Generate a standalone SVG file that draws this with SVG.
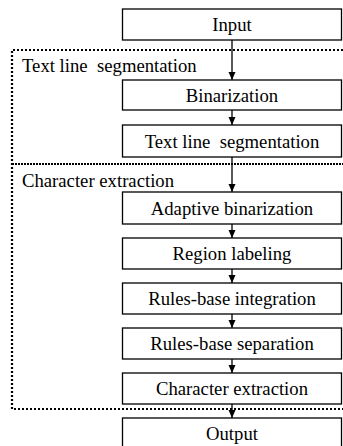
<svg xmlns="http://www.w3.org/2000/svg" width="343" height="446" viewBox="0 0 343 446">
  <style>
    .box { fill: #fff; stroke: #000; stroke-width: 1.3; }
    text { font-family: "Liberation Serif", "Times New Roman", "DejaVu Serif", serif; font-size: 18.7px; fill: #000; white-space: pre; }
    .ctr { text-anchor: middle; }
    .dot { fill: none; stroke: #000; stroke-width: 2.2; stroke-dasharray: 2 2; }
    .dot2 { fill: none; stroke: #000; stroke-width: 2.2; stroke-dasharray: 2 1; }
    .conn { stroke: #000; stroke-width: 1.3; fill: none; marker-end: url(#arr); }
  </style>
  <defs>
    <marker id="arr" viewBox="0 0 8 8" refX="8" refY="4" markerWidth="8" markerHeight="8" markerUnits="userSpaceOnUse" orient="auto">
      <path d="M0,0.5 L8,4 L0,7.5 Z" fill="#000"/>
    </marker>
  </defs>

  <!-- stage frames -->
  <g id="frames">
    <path class="dot" d="M343,50 H12 V409 H343"/>
    <path class="dot2" d="M12,164 H343"/>
    <text x="22" y="71.5" xml:space="preserve">Text line  segmentation</text>
    <text x="22" y="186.5">Character extraction</text>
  </g>

  <!-- connectors -->
  <g id="connectors">
    <line class="conn" x1="232" y1="40" x2="232" y2="80"/>
    <line class="conn" x1="232" y1="110" x2="232" y2="125"/>
    <line class="conn" x1="232" y1="157" x2="232" y2="192"/>
    <line class="conn" x1="232" y1="224" x2="232" y2="238"/>
    <line class="conn" x1="232" y1="269" x2="232" y2="283"/>
    <line class="conn" x1="232" y1="314" x2="232" y2="328"/>
    <line class="conn" x1="232" y1="359" x2="232" y2="373"/>
    <line class="conn" x1="232" y1="404" x2="232" y2="418"/>
  </g>

  <g id="input">
    <rect class="box" x="122.5" y="9" width="219" height="31"/>
    <text class="ctr" x="232" y="31">Input</text>
  </g>
  <g id="binarization">
    <rect class="box" x="122.5" y="80" width="219" height="30"/>
    <text class="ctr" x="232" y="101.5">Binarization</text>
  </g>
  <g id="textline">
    <rect class="box" x="122.5" y="125" width="219" height="32"/>
    <text class="ctr" x="232" y="147.5" xml:space="preserve">Text line  segmentation</text>
  </g>
  <g id="adaptive">
    <rect class="box" x="122.5" y="192" width="219" height="32"/>
    <text class="ctr" x="232" y="214.5">Adaptive binarization</text>
  </g>
  <g id="region">
    <rect class="box" x="122.5" y="238" width="219" height="31"/>
    <text class="ctr" x="232" y="260">Region labeling</text>
  </g>
  <g id="integration">
    <rect class="box" x="122.5" y="283" width="219" height="31"/>
    <text class="ctr" x="232" y="305">Rules-base integration</text>
  </g>
  <g id="separation">
    <rect class="box" x="122.5" y="328" width="219" height="31"/>
    <text class="ctr" x="232" y="350">Rules-base separation</text>
  </g>
  <g id="charextract">
    <rect class="box" x="122.5" y="373" width="219" height="31"/>
    <text class="ctr" x="232" y="395">Character extraction</text>
  </g>
  <g id="output">
    <rect class="box" x="122.5" y="418" width="219" height="30"/>
    <text class="ctr" x="232" y="440">Output</text>
  </g>
</svg>
